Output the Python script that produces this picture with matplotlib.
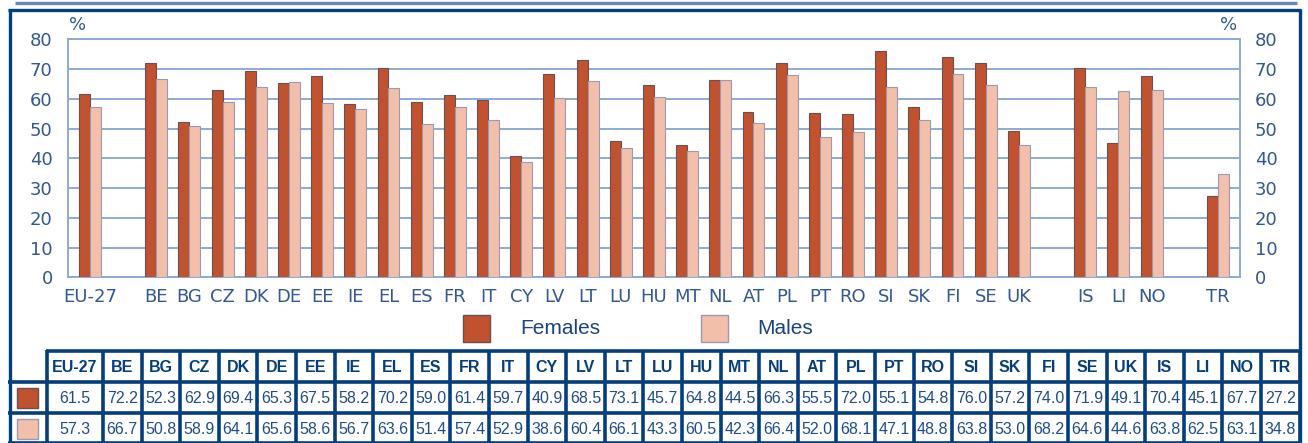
import matplotlib
matplotlib.use("Agg")
import matplotlib.pyplot as plt
from matplotlib.patches import Rectangle
from matplotlib.lines import Line2D

# Employment rate by sex, per country (%)
countries = ["EU-27", "BE", "BG", "CZ", "DK", "DE", "EE", "IE", "EL", "ES", "FR",
             "IT", "CY", "LV", "LT", "LU", "HU", "MT", "NL", "AT", "PL", "PT",
             "RO", "SI", "SK", "FI", "SE", "UK", "IS", "LI", "NO", "TR"]
females = [61.5, 72.2, 52.3, 62.9, 69.4, 65.3, 67.5, 58.2, 70.2, 59.0, 61.4,
           59.7, 40.9, 68.5, 73.1, 45.7, 64.8, 44.5, 66.3, 55.5, 72.0, 55.1,
           54.8, 76.0, 57.2, 74.0, 71.9, 49.1, 70.4, 45.1, 67.7, 27.2]
males = [57.3, 66.7, 50.8, 58.9, 64.1, 65.6, 58.6, 56.7, 63.6, 51.4, 57.4,
         52.9, 38.6, 60.4, 66.1, 43.3, 60.5, 42.3, 66.4, 52.0, 68.1, 47.1,
         48.8, 63.8, 53.0, 68.2, 64.6, 44.6, 63.8, 62.5, 63.1, 34.8]
# slot index for each country on the x axis (gaps separate the groups)
slots = [0] + list(range(2, 29)) + [30, 31, 32] + [34]
series_labels = ["Females", "Males"]
yticks = [0, 10, 20, 30, 40, 50, 60, 70, 80]

W, H = 1308, 443
C_FEM = "#c0522f"
C_MAL = "#f2bfab"
C_GRID = "#8eaad4"
C_TICK = "#33578f"
C_NAVY = "#053e7c"
C_VAL = "#1f4c8a"

NARROW = ["Liberation Sans Narrow", "DejaVu Sans Condensed", "DejaVu Sans"]
ARIAL = ["Liberation Sans", "DejaVu Sans"]


def fx(x):
    return x / W


def fy(y):
    return 1 - y / H


fig = plt.figure(figsize=(W / 100, H / 100), dpi=100)
fig.patch.set_facecolor("white")

# plotting area
ax_l, ax_r, ax_t, ax_b = 68, 1239.5, 39.3, 277.3
ax = fig.add_axes([fx(ax_l), fy(ax_b), fx(ax_r - ax_l), (ax_b - ax_t) / H])
bw = 0.33
xf = [s - bw / 2 for s in slots]
xm = [s + bw / 2 for s in slots]
ax.bar(xf, females, width=bw, color=C_FEM, edgecolor="#6a5050", linewidth=0.8, zorder=3)
ax.bar(xm, males, width=bw, color=C_MAL, edgecolor="#9a9ab0", linewidth=0.8, zorder=3)
ax.set_xlim(-0.66, 34.65)
ax.set_ylim(0, 80)
ax.set_yticks(yticks)
ax.yaxis.grid(True, color=C_GRID, linewidth=1.4, zorder=0)
ax.set_axisbelow(True)
for sp in ax.spines.values():
    sp.set_color(C_GRID)
    sp.set_linewidth(1.4)
ax.set_xticks(slots)
ax.set_xticklabels(countries)
ax.tick_params(axis="x", length=0, pad=8, labelsize=13, colors=C_TICK)
ax.tick_params(axis="y", length=0, pad=11, labelsize=13, colors=C_TICK,
               labelright=True, labelleft=True)
for lab in ax.get_xticklabels() + ax.get_yticklabels():
    lab.set_family(NARROW)
for t in ax.yaxis.get_major_ticks():
    t.label2.set_family(NARROW)
    t.label2.set_color(C_TICK)

fig.text(fx(78), fy(25), "%", family=NARROW, fontsize=13, color=C_TICK,
         ha="center", va="center")
fig.text(fx(1229), fy(25), "%", family=NARROW, fontsize=13, color=C_TICK,
         ha="center", va="center")

# legend
leg = [(463, 520, C_FEM, "#6a5050", series_labels[0]),
       (701, 757, C_MAL, "#9a9ab0", series_labels[1])]
for sx, tx, fc, ec, lab in leg:
    fig.patches.append(Rectangle((fx(sx), fy(341.5)), fx(27), 27 / H,
                                 transform=fig.transFigure, facecolor=fc,
                                 edgecolor=ec, linewidth=1))
    fig.text(fx(tx), fy(328), lab, family=ARIAL, fontsize=15, color="#1b4380",
             ha="left", va="center")


def hline(y, x0, x1, lw=2.6, color=C_NAVY):
    fig.add_artist(Line2D([fx(x0), fx(x1)], [fy(y), fy(y)], transform=fig.transFigure,
                          color=color, linewidth=lw, solid_capstyle="butt"))


def vline(x, y0, y1, lw=2.6, color=C_NAVY):
    fig.add_artist(Line2D([fx(x), fx(x)], [fy(y0), fy(y1)], transform=fig.transFigure,
                          color=color, linewidth=lw, solid_capstyle="butt"))


# outer frame and top rule
hline(2.5, 15, 1297, lw=2.4, color="#6a86b8")
hline(9.5, 8, 1300.5, lw=2.4)
vline(9.5, 8.5, 444, lw=2.4)
vline(1299.5, 8.5, 444, lw=2.4)

# data table
first_l, first_r = 47, 103
col_w = (1299.5 - first_r) / (len(countries) - 1)
edges = [first_l] + [first_r + i * col_w for i in range(len(countries))]
row_y = [351, 382, 413, 443]
hline(row_y[0], first_l - 1, 1300.5)
hline(row_y[1], 8, 1300.5)
hline(row_y[2], 8, 1300.5)
hline(row_y[3] - 0.5, 8, 1300.5)
for ex in edges:
    vline(ex, row_y[0] - 1, 444)

for i, c in enumerate(countries):
    cx = (edges[i] + edges[i + 1]) / 2
    fig.text(fx(cx), fy((row_y[0] + row_y[1]) / 2 + 1), c, family=ARIAL,
             fontsize=11.5, fontweight="bold", color=C_NAVY, ha="center", va="center")
    fig.text(fx(cx), fy((row_y[1] + row_y[2]) / 2 + 1), f"{females[i]:.1f}",
             family=ARIAL, fontsize=11.5, color=C_VAL, ha="center", va="center")
    fig.text(fx(cx), fy((row_y[2] + row_y[3]) / 2 + 1), f"{males[i]:.1f}",
             family=ARIAL, fontsize=11.5, color=C_VAL, ha="center", va="center")

for ytop, fc, ec in [(388, C_FEM, "#6a5050"), (419, C_MAL, "#9a9ab0")]:
    fig.patches.append(Rectangle((fx(17), fy(ytop + 20)), fx(21), 20 / H,
                                 transform=fig.transFigure, facecolor=fc,
                                 edgecolor=ec, linewidth=1))

fig.savefig("out.png", dpi=100, facecolor="white")
